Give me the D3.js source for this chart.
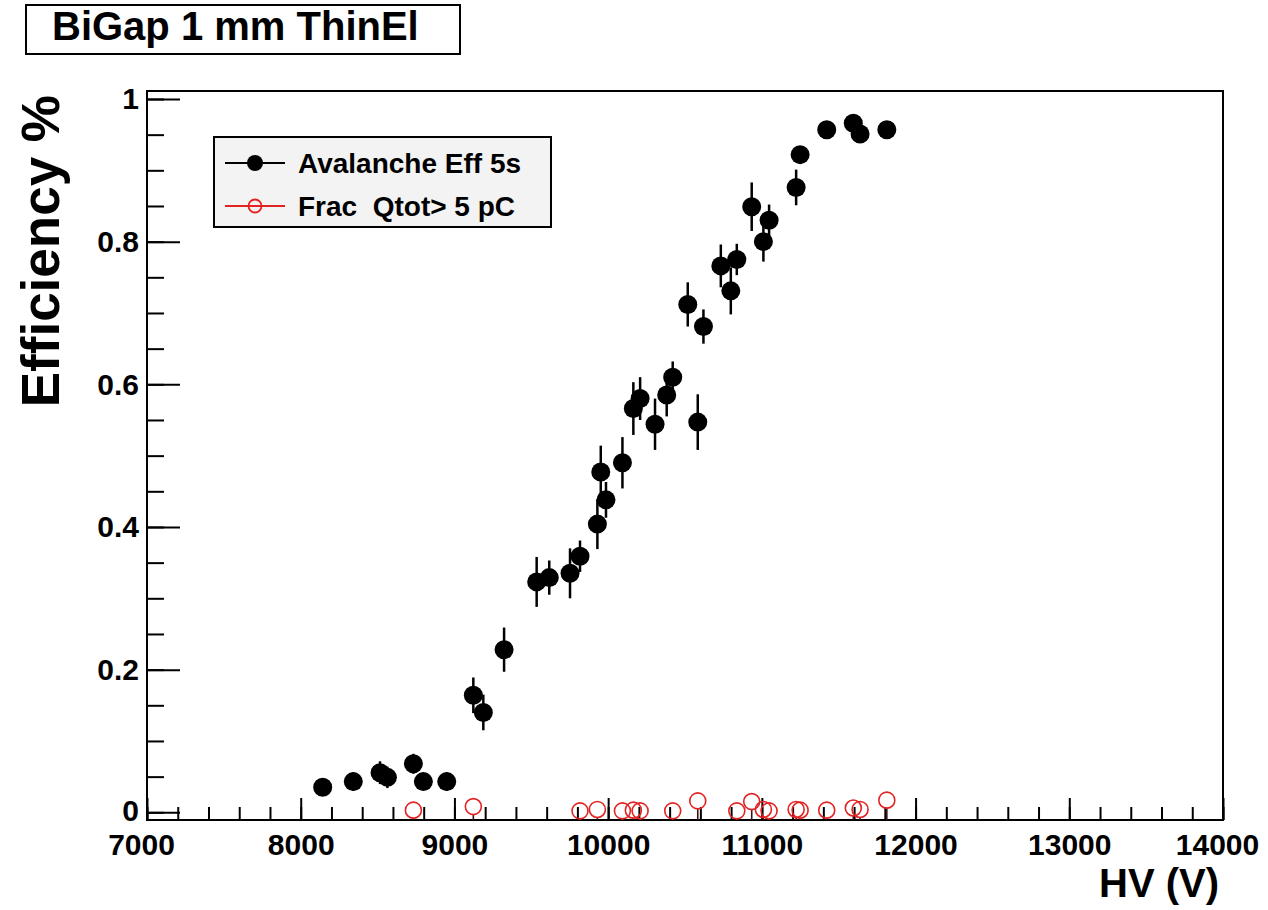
<!DOCTYPE html>
<html>
<head>
<meta charset="utf-8">
<script src="https://cdn.jsdelivr.net/npm/d3@7"></script>
<style>
  html, body { margin: 0; padding: 0; background: #fff; }
  svg { display: block; }
  text { font-family: "Liberation Sans", Arial, Helvetica, sans-serif; font-weight: bold; fill: #000; }
</style>
</head>
<body>
<svg id="chart" width="1268" height="910"></svg>
<script>
// Avalanche efficiency vs high voltage (filled black points with errors)
const hv = [8143, 8342, 8516, 8564, 8733, 8798, 8950, 9123, 9188, 9323,
            9535, 9617, 9752, 9817, 9930, 9952, 9986, 10093, 10164, 10208,
            10305, 10381, 10420, 10518, 10583, 10620, 10733, 10798, 10837, 10934,
            11010, 11047, 11223, 11249, 11422, 11595, 11639, 11813];
const eff = [0.035, 0.043, 0.0555, 0.049, 0.068, 0.043, 0.043, 0.164, 0.140, 0.228,
             0.323, 0.329, 0.335, 0.359, 0.404, 0.477, 0.438, 0.490, 0.566, 0.580,
             0.544, 0.585, 0.610, 0.712, 0.547, 0.681, 0.766, 0.731, 0.775, 0.849,
             0.800, 0.830, 0.876, 0.922, 0.957, 0.966, 0.951, 0.957];
const effErr = [0.012, 0.013, 0.016, 0.015, 0.014, 0.012, 0.013, 0.025, 0.025, 0.031,
                0.035, 0.024, 0.035, 0.022, 0.035, 0.037, 0.025, 0.036, 0.037, 0.030,
                0.036, 0.030, 0.022, 0.031, 0.039, 0.024, 0.030, 0.033, 0.022, 0.034,
                0.028, 0.022, 0.025, 0.012, 0.008, 0.010, 0.010, 0.008];

// Fraction of events with total charge above 5 pC (open red circles)
const fracHv = [8733, 9123, 9817, 9930, 10093, 10164, 10208, 10420, 10583, 10837,
                10934, 11010, 11047, 11223, 11249, 11422, 11595, 11639, 11813];
const frac = [0.003, 0.008, 0.002, 0.004, 0.002, 0.003, 0.002, 0.002, 0.016, 0.002,
              0.015, 0.004, 0.002, 0.004, 0.003, 0.003, 0.006, 0.004, 0.017];
const fracErrLow = [0.015, 0.020, 0.015, 0.015, 0.015, 0.015, 0.015, 0.015, 0.030, 0.015,
                    0.030, 0.015, 0.015, 0.015, 0.015, 0.015, 0.020, 0.015, 0.030];
const fracErrHigh = [0.005, 0.005, 0.005, 0.005, 0.005, 0.005, 0.005, 0.005, 0.006, 0.005,
                     0.006, 0.005, 0.005, 0.005, 0.005, 0.005, 0.005, 0.005, 0.006];

// Axes
const xTicks = [7000, 8000, 9000, 10000, 11000, 12000, 13000, 14000];
const xTickLabels = ["7000", "8000", "9000", "10000", "11000", "12000", "13000", "14000"];
const yTicks = [0, 0.2, 0.4, 0.6, 0.8, 1];
const yTickLabels = ["0", "0.2", "0.4", "0.6", "0.8", "1"];
const xDomain = [7000, 14000];
const yDomain = [-0.0108, 1.0112];

const titleText = "BiGap 1 mm ThinEl";
const xTitle = "HV (V)";
const yTitle = "Efficiency %";
const legendLabels = ["Avalanche Eff 5s", "Frac  Qtot> 5 pC"];

const frame = { left: 147, right: 1223, top: 91, bottom: 820 };
const svg = d3.select("#chart");

const x = d3.scaleLinear().domain(xDomain).range([frame.left, frame.right]);
const y = d3.scaleLinear().domain(yDomain).range([frame.bottom, frame.top]);

// Title box
svg.append("rect").attr("x", 26).attr("y", 5).attr("width", 434).attr("height", 49)
  .attr("fill", "#fff").attr("stroke", "#000").attr("stroke-width", 2);
svg.append("text").attr("x", 52).attr("y", 40).attr("font-size", 40).text(titleText);

// Clip region for the plot frame
svg.append("clipPath").attr("id", "plotClip").append("rect")
  .attr("x", frame.left).attr("y", frame.top)
  .attr("width", frame.right - frame.left).attr("height", frame.bottom - frame.top);

// Minor ticks
const xMinor = svg.append("g").attr("transform", `translate(0,${frame.bottom})`)
  .call(d3.axisBottom(x).ticks(35).tickSize(-13).tickFormat(""));
const yMinor = svg.append("g").attr("transform", `translate(${frame.left},0)`)
  .call(d3.axisLeft(y).tickValues(d3.scaleLinear().domain([0, 1]).ticks(20)).tickSize(-17).tickFormat(""));

// Major ticks with labels
const xAxis = svg.append("g").attr("transform", `translate(0,${frame.bottom})`)
  .call(d3.axisBottom(x).tickValues(xTicks).tickSize(-22).tickPadding(8)
    .tickFormat((d, i) => xTickLabels[i]));
const yAxis = svg.append("g").attr("transform", `translate(${frame.left},0)`)
  .call(d3.axisLeft(y).tickValues(yTicks).tickSize(-33).tickPadding(8)
    .tickFormat((d, i) => yTickLabels[i]));

[xMinor, yMinor, xAxis, yAxis].forEach(g => {
  g.select(".domain").remove();
  g.selectAll(".tick line").attr("stroke", "#000").attr("stroke-width", 2);
});
xAxis.selectAll(".tick text").attr("font-size", 30).attr("font-family", null)
  .attr("y", 0).attr("dy", null).attr("transform", "translate(0,35)");
yAxis.selectAll(".tick text").attr("font-size", 30).attr("font-family", null)
  .attr("dy", null).attr("transform", "translate(0,10)");
xAxis.selectAll(".tick").filter(d => d === 7000).select("text").attr("dx", -6);
xAxis.selectAll(".tick").filter(d => d === 14000).select("text").attr("dx", -6);
yAxis.selectAll(".tick").filter(d => d === 0).select("text").attr("transform", "translate(0,8)");

// Frame
svg.append("rect").attr("x", frame.left).attr("y", frame.top)
  .attr("width", frame.right - frame.left).attr("height", frame.bottom - frame.top)
  .attr("fill", "none").attr("stroke", "#000").attr("stroke-width", 2);

// Axis titles
svg.append("text").attr("x", 1219).attr("y", 897).attr("text-anchor", "end")
  .attr("font-size", 40).text(xTitle);
svg.append("text").attr("transform", "translate(59,95) rotate(-90)")
  .attr("text-anchor", "end").attr("font-size", 53).text(yTitle);

const plot = svg.append("g").attr("clip-path", "url(#plotClip)");
const rBlack = 9.5, rRed = 8;

// Open red circles with asymmetric errors (error line drawn outside the marker)
const red = "#e32222";
const redPts = fracHv.map((v, i) => ({ v, f: frac[i], lo: fracErrLow[i], hi: fracErrHigh[i] }));
plot.selectAll("line.redLo").data(redPts).join("line")
  .attr("x1", d => x(d.v)).attr("x2", d => x(d.v))
  .attr("y1", d => y(d.f) + rRed).attr("y2", d => Math.max(y(d.f) + rRed, y(d.f - d.lo)))
  .attr("stroke", "#3a1414").attr("stroke-width", 1.6);
plot.selectAll("line.redHi").data(redPts.filter(d => y(d.f + d.hi) < y(d.f) - rRed)).join("line")
  .attr("x1", d => x(d.v)).attr("x2", d => x(d.v))
  .attr("y1", d => y(d.f) - rRed).attr("y2", d => y(d.f + d.hi))
  .attr("stroke", "#3a1414").attr("stroke-width", 1.6);
plot.selectAll("circle.red").data(redPts).join("circle")
  .attr("cx", d => x(d.v)).attr("cy", d => y(d.f)).attr("r", rRed)
  .attr("fill", "none").attr("stroke", red).attr("stroke-width", 1.6);

// Black points with symmetric error bars
const blackPts = hv.map((v, i) => ({ v, e: eff[i], err: effErr[i] }));
plot.selectAll("line.err").data(blackPts).join("line")
  .attr("x1", d => x(d.v)).attr("x2", d => x(d.v))
  .attr("y1", d => y(d.e - d.err)).attr("y2", d => y(d.e + d.err))
  .attr("stroke", "#000").attr("stroke-width", 2.5);
plot.selectAll("circle.blk").data(blackPts).join("circle")
  .attr("cx", d => x(d.v)).attr("cy", d => y(d.e)).attr("r", rBlack)
  .attr("fill", "#000");

// Legend
const leg = svg.append("g");
leg.append("rect").attr("x", 214).attr("y", 137).attr("width", 337).attr("height", 90)
  .attr("fill", "#f3f3f3").attr("stroke", "#000").attr("stroke-width", 2);
const rows = [163, 206];
leg.append("line").attr("x1", 225).attr("x2", 285).attr("y1", rows[0]).attr("y2", rows[0])
  .attr("stroke", "#000").attr("stroke-width", 2);
leg.append("circle").attr("cx", 255).attr("cy", rows[0]).attr("r", 8).attr("fill", "#000");
leg.append("line").attr("x1", 225).attr("x2", 285).attr("y1", rows[1]).attr("y2", rows[1])
  .attr("stroke", red).attr("stroke-width", 2);
leg.append("circle").attr("cx", 255).attr("cy", rows[1]).attr("r", 6.5)
  .attr("fill", "none").attr("stroke", red).attr("stroke-width", 1.8);
legendLabels.forEach((t, i) => {
  leg.append("text").attr("x", 298).attr("y", rows[i] + 10).attr("font-size", 28)
    .attr("xml:space", "preserve").style("white-space", "pre").text(t);
});
</script>
</body>
</html>
